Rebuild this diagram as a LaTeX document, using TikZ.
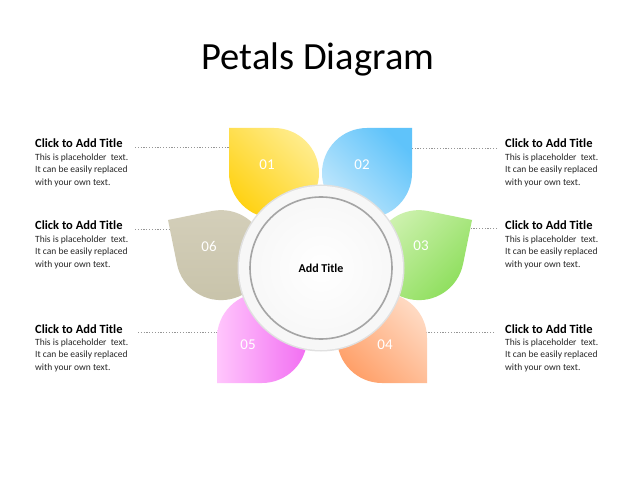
\documentclass[tikz,border=0pt]{standalone}
\usepackage{fontspec}
\setmainfont{Carlito}
\usetikzlibrary{positioning}

\definecolor{yelA}{RGB}{255,210,20}
\definecolor{yelB}{RGB}{255,236,140}
\definecolor{bluA}{RGB}{95,195,250}
\definecolor{bluB}{RGB}{195,232,252}
\definecolor{grnA}{RGB}{140,222,90}
\definecolor{grnB}{RGB}{208,242,178}
\definecolor{orgA}{RGB}{255,160,105}
\definecolor{orgB}{RGB}{255,218,195}
\definecolor{pnkA}{RGB}{242,110,242}
\definecolor{pnkB}{RGB}{255,198,252}
\definecolor{khkA}{RGB}{200,195,170}
\definecolor{khkB}{RGB}{212,207,186}
\definecolor{dotgray}{RGB}{150,150,150}
\definecolor{ringline}{RGB}{165,165,165}

\begin{document}
\begin{tikzpicture}[x=1pt,y=1pt,
  dotline/.style={dotgray, line width=0.6pt, dash pattern=on 1.2pt off 1.6pt},
  boxtitle/.style={inner sep=0pt, font=\fontsize{12.5}{14}\selectfont\bfseries},
  boxtext/.style={inner sep=0pt, align=left, text=black!85, font=\fontsize{9.5}{12.2}\selectfont},
  petalnum/.style={text=white, font=\fontsize{15}{17}\selectfont}]
\fill[white] (0,0) rectangle (640,480);
\useasboundingbox (0,0) rectangle (640,480);

\node[anchor=base] (head) at (318,410) {\fontsize{38.5}{42}\selectfont Petals Diagram};

% text boxes, left
\node[boxtitle, anchor=base west] (t1) at (35,332) {Click to Add Title};
\node[boxtext, below right=6pt and 0pt of t1.base west] (b1) {This is placeholder\ \ text.\\It can be easily replaced\\with your own text.};
\node[boxtitle, anchor=base west] (t6) at (35,250) {Click to Add Title};
\node[boxtext, below right=6pt and 0pt of t6.base west] (b6) {This is placeholder\ \ text.\\It can be easily replaced\\with your own text.};
\node[boxtitle, anchor=base west] (t5) at (35,147) {Click to Add Title};
\node[boxtext, below right=6pt and 0pt of t5.base west] (b5) {This is placeholder\ \ text.\\It can be easily replaced\\with your own text.};

% text boxes, right
\node[boxtitle, anchor=base west] (t2) at (505,332) {Click to Add Title};
\node[boxtext, below right=6pt and 0pt of t2.base west] (b2) {This is placeholder\ \ text.\\It can be easily replaced\\with your own text.};
\node[boxtitle, anchor=base west] (t3) at (505,250) {Click to Add Title};
\node[boxtext, below right=6pt and 0pt of t3.base west] (b3) {This is placeholder\ \ text.\\It can be easily replaced\\with your own text.};
\node[boxtitle, anchor=base west] (t4) at (505,147) {Click to Add Title};
\node[boxtext, below right=6pt and 0pt of t4.base west] (b4) {This is placeholder\ \ text.\\It can be easily replaced\\with your own text.};

% dotted leaders
\coordinate (l1) at (135,333); \coordinate (p1) at (232,333);
\coordinate (l6) at (135,251); \coordinate (p6) at (172,251);
\coordinate (l5) at (138,148); \coordinate (p5) at (220,148);
\coordinate (l2) at (497,332); \coordinate (p2) at (409,332);
\coordinate (l3) at (497,252); \coordinate (p3) at (468,252);
\coordinate (l4) at (494,148); \coordinate (p4) at (424,148);
\draw[dotline] (l1) -- (p1);
\draw[dotline] (l6) -- (p6);
\draw[dotline] (l5) -- (p5);
\draw[dotline] (l2) -- (p2);
\draw[dotline] (l3) -- (p3);
\draw[dotline] (l4) -- (p4);

% petals
\shade[top color=yelB, bottom color=yelA, shading angle=-45]
  (229,352) -- (274,352) arc[start angle=90, end angle=-180, radius=45] -- cycle;
\shade[top color=bluA, bottom color=bluB, shading angle=-45]
  (412,352) -- (367,352) arc[start angle=90, end angle=360, radius=45] -- cycle;
\shade[top color=orgB, bottom color=orgA, shading angle=-45]
  (427,97) -- (427,142) arc[start angle=0, end angle=270, radius=45] -- cycle;
\shade[left color=pnkB, right color=pnkA]
  (217,97) -- (217,142) arc[start angle=180, end angle=-90, radius=45] -- cycle;
\begin{scope}[shift={(168,260)}, rotate=11.5]
\shade[top color=khkB, bottom color=khkA]
  (0,0) -- (45,0) arc[start angle=90, end angle=-180, radius=45] -- cycle;
\end{scope}
\begin{scope}[shift={(472,260)}, rotate=-11.5, xscale=-1]
\shade[top color=grnB, bottom color=grnA, shading angle=45]
  (0,0) -- (45,0) arc[start angle=90, end angle=-180, radius=45] -- cycle;
\end{scope}

\node[petalnum] (n1) at (267,315) {01};
\node[petalnum] (n2) at (362,315) {02};
\node[petalnum] (n3) at (421,234) {03};
\node[petalnum] (n4) at (385,135) {04};
\node[petalnum] (n5) at (248,135) {05};
\node[petalnum] (n6) at (209,234) {06};

% centre
\coordinate (c) at (321,212);
\fill[black!12] (c) circle (83.5);
\fill[black!3] (c) circle (82);
\shadedraw[draw=ringline, line width=1.6pt, inner color=white, outer color=black!3] (c) circle (71);
\node[font=\fontsize{12}{14}\selectfont\bfseries] (mid) at (c) {Add Title};
\end{tikzpicture}
\end{document}
